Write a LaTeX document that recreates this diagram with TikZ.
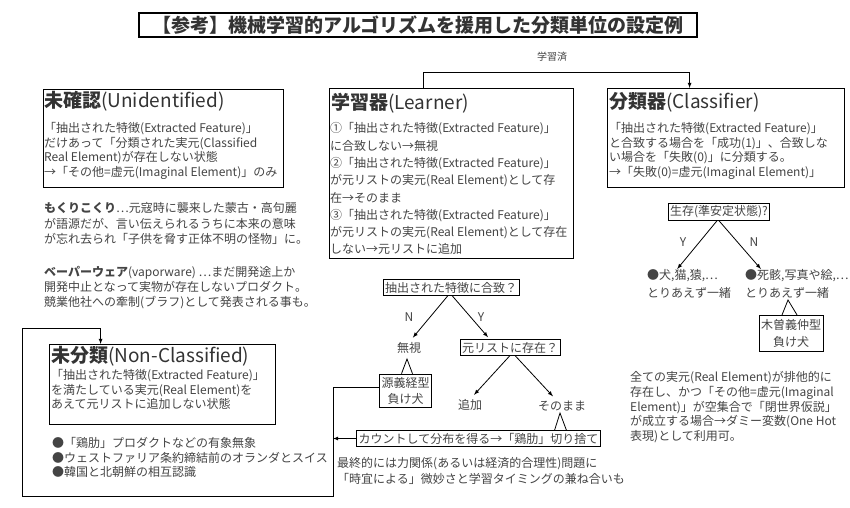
\documentclass[tikz,border=0pt]{standalone}
\usepackage{fontspec}
\setmainfont{Noto Sans CJK JP}
\usetikzlibrary{arrows}
\definecolor{ink}{HTML}{444444}
\definecolor{headink}{HTML}{333333}

\begin{document}
\begin{tikzpicture}[x=1pt,y=-1pt,>=latex]
\tikzstyle{every node}=[inner sep=0pt,text=ink]
\tikzstyle{frame}=[draw=black,line width=1.2pt,anchor=north west]
\tikzstyle{head}=[anchor=west,text=headink,font=\fontsize{19}{22}\selectfont]
\tikzstyle{body}=[anchor=north west,align=left,font=\fontsize{12}{14.5}\selectfont]
\tikzstyle{qbox}=[draw=black,line width=1pt,inner xsep=2pt,inner ysep=2pt,font=\fontsize{12}{14}\selectfont]
\tikzstyle{small}=[font=\fontsize{12}{14}\selectfont]
\tikzstyle{link}=[draw=black,line width=0.8pt]
\useasboundingbox[fill=white] (0,0) rectangle (850,507);

\node[draw=black,line width=1.2pt,minimum width=558,minimum height=24,text=headink,font=\fontsize{19}{22}\selectfont\bfseries] (title) at (418,25) {【参考】機械学習的アルゴリズムを援用した分類単位の設定例};
\node[small,font=\fontsize{10}{12}\selectfont] (learned) at (552,57) {学習済};

\node[frame,minimum width=240,minimum height=98] (unident) at (43,89) {};
\node[head] (unidentT) at (44,101) {\textbf{未確認}(Unidentified)};
\node[body] (unidentB) at (44,122.5) {「抽出された特徴(Extracted Feature)」\\だけあって「分類された実元(Classified\\Real Element)が存在しない状態\\→「その他=虚元(Imaginal Element)」のみ};

\node[body,font=\fontsize{12}{15.5}\selectfont] (mokuri) at (44,202.5) {\textbf{もくりこくり}…元寇時に襲来した蒙古・高句麗\\が語源だが、言い伝えられるうちに本来の意味\\が忘れ去られ「子供を脅す正体不明の怪物」に。};
\node[body,font=\fontsize{12}{15}\selectfont] (vapor) at (44,266.5) {\textbf{ベーパーウェア}(vaporware) …まだ開発途上か\\開発中止となって実物が存在しないプロダクト。\\競業他社への牽制(ブラフ)として発表される事も。};

\node[frame,minimum width=244,minimum height=170] (learner) at (329,88) {};
\node[head] (learnerT) at (331,103) {\textbf{学習器}(Learner)};
\node[body,font=\fontsize{12}{17.3}\selectfont] (learnerB) at (330,122.5) {①「抽出された特徴(Extracted Feature)」\\に合致しない→無視\\②「抽出された特徴(Extracted Feature)」\\が元リストの実元(Real Element)として存\\在→そのまま\\③「抽出された特徴(Extracted Feature)」\\が元リストの実元(Real Element)として存在\\しない→元リストに追加};

\node[frame,minimum width=237,minimum height=99] (classif) at (607,88) {};
\node[head] (classifT) at (609,102) {\textbf{分類器}(Classifier)};
\node[body] (classifB) at (609,122.5) {「抽出された特徴(Extracted Feature)」\\と合致する場合を「成功(1)」、合致しな\\い場合を「失敗(0)」に分類する。\\→「失敗(0)=虚元(Imaginal Element)」};

\draw[link,->] ([xshift=-28]learner.north) -- ++(0,-16) -| ([xshift=-36.5]classif.north);

\node[qbox] (survive) at (719,212) {生存(準安定状態)?};
\node[small] (ylab) at (683,242) {Y};
\node[small] (nlab) at (754,242) {N};
\node[body,font=\fontsize{12}{18}\selectfont] (alive) at (647,269) {●犬,猫,猿,…\\とりあえず一緒};
\node[body,font=\fontsize{12}{18}\selectfont] (dead) at (745,269) {●死骸,写真や絵,…\\とりあえず一緒};
\draw[link,->] ([xshift=-2]survive.south) -- ([xshift=-12]alive.north);
\draw[link,->] (survive.south) -- ([xshift=-36]dead.north);
\node[qbox,align=center,inner ysep=4pt,font=\fontsize{12}{17}\selectfont] (kiso) at (791,333.5) {木曽義仲型\\負け犬};
\coordinate (kisotip) at (788,300);
\draw[link] ([xshift=-9]kiso.north) -- (kisotip) -- ([xshift=6]kiso.north);

\node[qbox] (match) at (451,287.5) {抽出された特徴に合致？};
\node[small] (nlab2) at (409,317) {N};
\node[small] (ylab2) at (481,317) {Y};
\node[small] (ignore) at (409,348) {無視};
\node[qbox] (inlist) at (510,347.5) {元リストに存在？};
\draw[link,->,shorten >=6pt] ([xshift=-3]match.south) -- (ignore.north);
\draw[link,->,shorten >=3pt] ([xshift=1]match.south) -- ([xshift=-20]inlist.north);
\node[small] (add) at (470,405) {追加};
\node[small] (keep) at (562,406) {そのまま};
\draw[link,->,shorten >=6pt] (inlist.south) -- (add.north);
\draw[link,->,shorten >=6pt] ([xshift=5]inlist.south) -- ([xshift=-5]keep.north);

\node[qbox,align=center,inner ysep=3pt,font=\fontsize{12}{16.5}\selectfont] (yoshi) at (405.5,391) {源義経型\\負け犬};
\coordinate (yoshitip) at (407,359);
\draw[link] ([xshift=-4]yoshi.north) -- (yoshitip) -- ([xshift=7]yoshi.north);

\node[qbox] (count) at (478.5,438.5) {カウントして分布を得る→「鶏肋」切り捨て};
\coordinate (keeptip) at (560,413);
\draw[link] ([xshift=76]count.north) -- (keeptip) -- ([xshift=88]count.north);

\node[frame,minimum width=226,minimum height=80] (nonclass) at (49,344) {};
\node[head] (nonclassT) at (51,356) {\textbf{未分類}(Non-Classified)};
\node[body,font=\fontsize{12}{14.2}\selectfont] (nonclassB) at (51,369.5) {「抽出された特徴(Extracted Feature)」\\を満たしている実元(Real Element)を\\あえて元リストに追加しない状態};
\node[body] (examples) at (52,437.5) {●「鶏肋」プロダクトなどの有象無象\\●ウェストファリア条約締結前のオランダとスイス\\●韓国と北朝鮮の相互認識};

\coordinate (loopbot) at (333,496);
\coordinate (looptop) at (22,328);
\draw[link,->] ([yshift=4]yoshi.west) -| (loopbot) -| (looptop) -| ([xshift=-62]nonclass.north);
\draw[link,->] (count.west) -- (count.west -| loopbot);

\node[body,font=\fontsize{12}{16}\selectfont] (final) at (337,457.5) {最終的には力関係(あるいは経済的合理性)問題に\\「時宜による」微妙さと学習タイミングの兼ね合いも};
\node[body,font=\fontsize{12}{14.7}\selectfont] (closed) at (630,371.5) {全ての実元(Real Element)が排他的に\\存在し、かつ「その他=虚元(Imaginal\\Element)」が空集合で「閉世界仮説」\\が成立する場合→ダミー変数(One Hot\\表現)として利用可。};
\end{tikzpicture}
\end{document}
